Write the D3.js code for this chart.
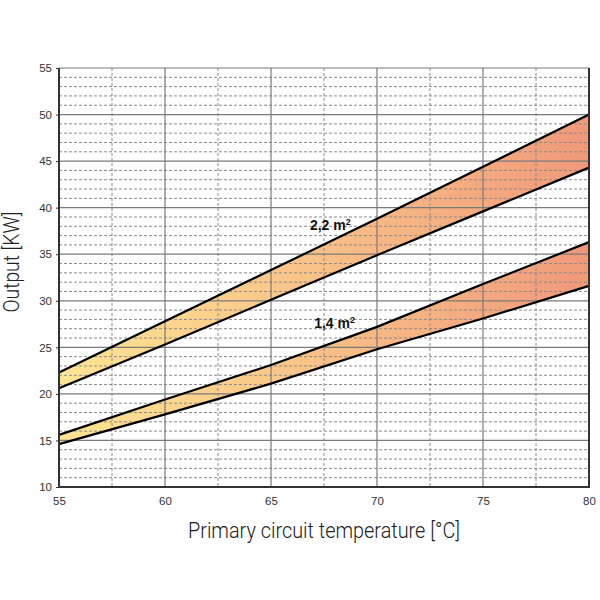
<!DOCTYPE html>
<html><head><meta charset="utf-8">
<script src="https://cdn.jsdelivr.net/npm/d3@7/dist/d3.min.js"></script>
<style>html,body{margin:0;padding:0;background:#fff;}</style>
</head><body>
<script>
const temps = [55, 60, 65, 70, 75, 80];
const upper22 = [22.3, 27.8, 33.3, 38.8, 44.4, 50.0];
const lower22 = [20.6, 25.3, 30.1, 34.9, 39.6, 44.3];
const upper14 = [15.6, 19.4, 23.1, 27.2, 31.8, 36.3];
const lower14 = [14.6, 17.8, 21.1, 24.8, 28.1, 31.6];
const xTicks = [55, 60, 65, 70, 75, 80];
const yTicks = [10, 15, 20, 25, 30, 35, 40, 45, 50, 55];
const bandLabels = [{t: "2,2 m", x: 67.8, y: 37.6}, {t: "1,4 m", x: 68.0, y: 27.1}];

const W = 600, H = 600;
const pL = 59, pR = 589, pT = 68, pB = 487;
const svg = d3.select("body").append("svg").attr("width", W).attr("height", H);
const x = d3.scaleLinear().domain([55, 80]).range([pL, pR]);
const y = d3.scaleLinear().domain([10, 55]).range([pB, pT]);

const defs = svg.append("defs");
const grad = defs.append("linearGradient").attr("id", "g").attr("gradientUnits", "userSpaceOnUse")
  .attr("x1", pL).attr("x2", pR).attr("y1", 0).attr("y2", 0);
grad.append("stop").attr("offset", "0%").attr("stop-color", "#fee594");
grad.append("stop").attr("offset", "45%").attr("stop-color", "#f9c488");
grad.append("stop").attr("offset", "100%").attr("stop-color", "#f0997a");

// bands
const area = (up, lo) => d3.area().x((d, i) => x(temps[i])).y0((d, i) => y(lo[i])).y1((d, i) => y(up[i]));
svg.append("path").datum(temps).attr("d", area(upper22, lower22)).attr("fill", "url(#g)");
svg.append("path").datum(temps).attr("d", area(upper14, lower14)).attr("fill", "url(#g)");

// minor grid
const g = svg.append("g");
d3.range(10, 55.01, 1).filter(v => v % 5 !== 0).forEach(v => {
  g.append("line").attr("x1", pL).attr("x2", pR).attr("y1", y(v)).attr("y2", y(v))
    .attr("stroke", "#8a8a8a").attr("stroke-width", 1).attr("stroke-dasharray", "3,2");
});
d3.range(55, 80.01, 2.5).filter(v => v % 5 !== 0).forEach(v => {
  g.append("line").attr("y1", pT).attr("y2", pB).attr("x1", x(v)).attr("x2", x(v))
    .attr("stroke", "#8a8a8a").attr("stroke-width", 1).attr("stroke-dasharray", "3,2");
});
// major grid
yTicks.forEach(v => {
  g.append("line").attr("x1", pL).attr("x2", pR).attr("y1", y(v)).attr("y2", y(v))
    .attr("stroke", "#7a7a7a").attr("stroke-width", 1.2);
});
xTicks.forEach(v => {
  g.append("line").attr("y1", pT).attr("y2", pB).attr("x1", x(v)).attr("x2", x(v))
    .attr("stroke", "#7a7a7a").attr("stroke-width", 1.2);
});

const line = arr => d3.line().x((d, i) => x(temps[i])).y((d, i) => y(arr[i]));
[upper22, lower22, upper14, lower14].forEach(arr => {
  svg.append("path").datum(temps).attr("d", line(arr)).attr("fill", "none")
    .attr("stroke", "#000").attr("stroke-width", 2.2);
});

// axes frame
svg.append("line").attr("x1", pL).attr("x2", pL).attr("y1", pT).attr("y2", pB).attr("stroke", "#333").attr("stroke-width", 2);
svg.append("line").attr("x1", pR).attr("x2", pR).attr("y1", pT).attr("y2", pB).attr("stroke", "#333").attr("stroke-width", 2);
svg.append("line").attr("x1", pL - 1).attr("x2", pR + 1).attr("y1", pB).attr("y2", pB).attr("stroke", "#333").attr("stroke-width", 2.2);

// ticks
const yAxis = d3.axisLeft(y).tickValues(yTicks).tickSize(3).tickPadding(4).tickFormat(d3.format("d"));
const ya = svg.append("g").attr("transform", `translate(${pL},0)`).call(yAxis);
ya.select(".domain").remove();
ya.selectAll("text").attr("font-family", "Liberation Sans, Arial, sans-serif").attr("font-size", 11.5).attr("fill", "#333");
ya.selectAll("line").attr("stroke", "#333");
const xAxis = d3.axisBottom(x).tickValues(xTicks).tickSize(0).tickPadding(10).tickFormat(d3.format("d"));
const xa = svg.append("g").attr("transform", `translate(0,${pB})`).call(xAxis);
xa.select(".domain").remove();
xa.selectAll("text").attr("font-family", "Liberation Sans, Arial, sans-serif").attr("font-size", 11.5).attr("fill", "#333");

// band labels
bandLabels.forEach(l => {
  const t = svg.append("text").attr("x", x(l.x)).attr("y", y(l.y))
    .attr("font-family", "Liberation Sans, Arial, sans-serif").attr("font-weight", "bold")
    .attr("font-size", 14).attr("fill", "#111").attr("text-anchor", "middle").text(l.t);
  t.append("tspan").attr("font-size", 9).attr("dy", -5).text("2");
});

// axis titles
svg.append("text").attr("x", (pL + pR) / 2).attr("y", 538).attr("text-anchor", "middle")
  .attr("font-family", "Roboto, sans-serif").attr("font-weight", 300).attr("font-size", 22)
  .attr("fill", "#222").attr("textLength", 272).attr("lengthAdjust", "spacingAndGlyphs")
  .text("Primary circuit temperature [°C]");
svg.append("text").attr("transform", "translate(19,262) rotate(-90)").attr("text-anchor", "middle")
  .attr("font-family", "Roboto, sans-serif").attr("font-weight", 300).attr("font-size", 22)
  .attr("fill", "#222").attr("textLength", 101).attr("lengthAdjust", "spacingAndGlyphs")
  .text("Output [KW]");
</script>
</body></html>
